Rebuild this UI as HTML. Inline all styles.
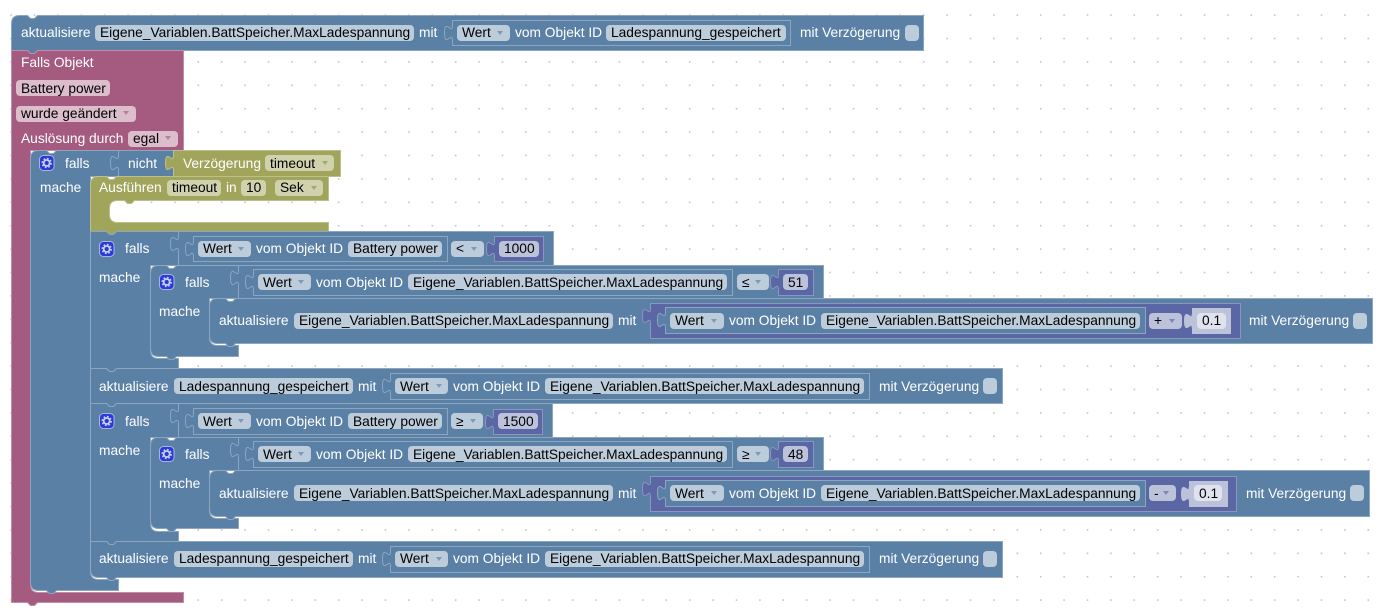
<!DOCTYPE html>
<html lang="de"><head><meta charset="utf-8"><title>Blockly</title>
<style>
html,body{margin:0;padding:0;background:#fff;width:1383px;height:614px;overflow:hidden}
svg{display:block}
text{font:13.75px "Liberation Sans",Arial,sans-serif;fill:#fff;white-space:pre}
text.k{fill:#000}
.bl{fill:#5b80a5;stroke:#8ca6c0}
.p{fill:#a55b80;stroke:#c08ca6}
.o{fill:#a0a55b;stroke:#bcc08c}
.m{fill:#5b67a5;stroke:#8c95c0}
.s{fill:#bdc2db;stroke:#bdc2db}
.fb{fill:#bdccdb}.fp{fill:#dbbdcc}.fo{fill:#d0d2ad}.fm{fill:#bdc2db}.fs{fill:#e0e2ee}
.ab{fill:#7d9ab8}.ap{fill:#b57f9b}.ao{fill:#a5a870}.am{fill:#7d86b8}
</style></head><body>
<svg xmlns="http://www.w3.org/2000/svg" width="1383" height="614" viewBox="0 0 1383 614">
<defs>
<pattern id="d" patternUnits="userSpaceOnUse" x="10.3" y="14.3" width="23.4" height="23.4"><rect width="1.6" height="1.6" fill="#c4c4c4"/></pattern>
<g id="t"><rect x="-1" y="1" width="2" height="13" stroke="none"/><path d="M0,0 c0,10 -8,-8 -8,7.5 s8,-2.5 8,7.5"/></g>
<g id="gear"><rect x="0.5" y="0.5" width="14.5" height="15" rx="4" fill="#2a39d8" stroke="#a9b6dc"/><circle cx="7.7" cy="8" r="3" fill="none" stroke="#c7d1ea" stroke-width="1.8"/><circle cx="7.7" cy="8" r="4.5" fill="none" stroke="#c7d1ea" stroke-width="1.5" stroke-dasharray="1.8 1.74"/></g>
</defs>
<rect width="1383" height="614" fill="#fff"/>
<rect width="1383" height="614" fill="url(#d)"/>

<g transform="translate(.5 .5)">
<!-- top block -->
<path class="bl" d="M11,23 Q11,15 19,15 H27 l3,3 h4 l3,-3 H923 V50 H37 l-3,3 h-4 l-3,-3 H11 Z"/>
<!-- event -->
<path class="p" d="M11,50 H27 l3,3 h4 l3,-3 H183 V150 H30 V584 Q30,592 38,592 H183 V602 H37 l-3,3 h-4 l-3,-3 H11 Z"/>
<!-- outer falls -->
<path class="bl" d="M30,158 Q30,150 38,150 H46 l3,3 h4 l3,-3 H118 V176 H90 V571 Q90,579 98,579 H118 V590 H56 l-3,3 h-4 l-3,-3 H38 Q30,590 30,582 Z"/>
<path class="bl" d="M118,150 H173 V176 H118 Z"/>
<use href="#t" x="118" y="155" class="bl"/>
<path class="o" d="M173,150 H340 V176 H173 Z"/>
<use href="#t" x="173" y="155" class="o"/>
<!-- Ausfuehren -->
<path class="o" d="M90,184 Q90,176 98,176 H106 l3,3 h4 l3,-3 H328 V200 H134 l-3,3 h-4 l-3,-3 H117 Q109,200 109,208 V214 Q109,222 117,222 H328 V231 H116 l-3,3 h-4 l-3,-3 H90 Z"/>

<!-- falls 2 -->
<path class="bl" d="M90,231 H106 l3,3 h4 l3,-3 H178 V265 H150 V350 Q150,358 158,358 H178 V368 H116 l-3,3 h-4 l-3,-3 H90 Z"/>
<rect class="bl" x="178" y="231" width="375" height="34"/>
<use href="#t" x="178" y="236" class="bl"/>
<rect class="bl" x="193" y="236" width="254" height="25"/>
<use href="#t" x="193" y="241" class="bl"/>
<rect class="m" x="494" y="236" width="49" height="25"/>
<use href="#t" x="494" y="241" class="m"/>
<!-- falls 2 inner -->
<path class="bl" d="M150,273 Q150,265 158,265 H166 l3,3 h4 l3,-3 H238 V298 H209 V337 Q209,345 217,345 H238 V356 H176 l-3,3 h-4 l-3,-3 H158 Q150,356 150,348 Z"/>
<rect class="bl" x="238" y="265" width="585" height="33"/>
<use href="#t" x="238" y="270" class="bl"/>
<rect class="bl" x="253" y="269" width="479" height="26"/>
<use href="#t" x="253" y="274" class="bl"/>
<rect class="m" x="778" y="269" width="35" height="26"/>
<use href="#t" x="778" y="274" class="m"/>
<!-- akt inner 1 -->
<path class="bl" d="M209,306 Q209,298 217,298 H225 l3,3 h4 l3,-3 H1372 V343 H235 l-3,3 h-4 l-3,-3 H217 Q209,343 209,335 Z"/>
<rect class="m" x="650" y="303" width="590" height="35"/>
<use href="#t" x="650" y="308" class="m"/>
<rect class="bl" x="665" y="307" width="480" height="26"/>
<use href="#t" x="665" y="312" class="bl"/>
<rect class="s" x="1192" y="308" width="38" height="25"/>
<use href="#t" x="1192" y="313" class="s"/>

<!-- akt 2 -->
<path class="bl" d="M90,368 H106 l3,3 h4 l3,-3 H1002 V403 H116 l-3,3 h-4 l-3,-3 H90 Z"/>
<rect class="bl" x="390" y="373" width="479" height="26"/>
<use href="#t" x="390" y="378" class="bl"/>

<!-- falls 3 -->
<path class="bl" d="M90,403 H106 l3,3 h4 l3,-3 H178 V437 H150 V523 Q150,531 158,531 H178 V541 H116 l-3,3 h-4 l-3,-3 H90 Z"/>
<rect class="bl" x="178" y="403" width="374" height="34"/>
<use href="#t" x="178" y="408" class="bl"/>
<rect class="bl" x="193" y="408" width="254" height="26"/>
<use href="#t" x="193" y="413" class="bl"/>
<rect class="m" x="493" y="409" width="49" height="25"/>
<use href="#t" x="493" y="414" class="m"/>
<!-- falls 3 inner -->
<path class="bl" d="M150,445 Q150,437 158,437 H166 l3,3 h4 l3,-3 H238 V470 H209 V510 Q209,518 217,518 H238 V528 H176 l-3,3 h-4 l-3,-3 H158 Q150,528 150,520 Z"/>
<rect class="bl" x="238" y="437" width="585" height="33"/>
<use href="#t" x="238" y="442" class="bl"/>
<rect class="bl" x="253" y="441" width="479" height="26"/>
<use href="#t" x="253" y="446" class="bl"/>
<rect class="m" x="778" y="441" width="35" height="26"/>
<use href="#t" x="778" y="446" class="m"/>
<!-- akt inner 2 -->
<path class="bl" d="M209,478 Q209,470 217,470 H225 l3,3 h4 l3,-3 H1369 V516 H235 l-3,3 h-4 l-3,-3 H217 Q209,516 209,508 Z"/>
<rect class="m" x="650" y="476" width="586" height="35"/>
<use href="#t" x="650" y="481" class="m"/>
<rect class="bl" x="665" y="480" width="480" height="26"/>
<use href="#t" x="665" y="485" class="bl"/>
<rect class="s" x="1189" y="481" width="38" height="25"/>
<use href="#t" x="1189" y="486" class="s"/>

<!-- akt 4 -->
<path class="bl" d="M90,541 H106 l3,3 h4 l3,-3 H1002 V577 H116 l-3,3 h-4 l-3,-3 H98 Q90,577 90,569 Z"/>
<rect class="bl" x="390" y="546" width="479" height="26"/>
<use href="#t" x="390" y="551" class="bl"/>
<rect class="bl" x="452" y="20" width="338" height="25"/>
<use href="#t" x="452" y="25" class="bl"/>
</g>

<!-- ROW 1 -->
<text x="21" y="37">aktualisiere</text>
<rect class="fb" x="95" y="25" width="319" height="16" rx="4"/><text class="k" x="100" y="37">Eigene_Variablen.BattSpeicher.MaxLadespannung</text>
<text x="419" y="37">mit</text>
<rect class="fb" x="457" y="25" width="53" height="16" rx="4"/><text class="k" x="462" y="37">Wert</text><path class="ab" d="M497,31 h6 l-3,4 z"/>
<text x="515" y="37">vom Objekt ID</text>
<rect class="fb" x="606" y="25" width="180" height="16" rx="4"/><text class="k" x="611" y="37">Ladespannung_gespeichert</text>
<text x="800" y="37">mit Verzögerung</text>
<rect class="fb" x="905" y="25" width="14" height="16" rx="4"/>

<!-- EVENT -->
<text x="21" y="67">Falls Objekt</text>
<rect class="fp" x="16" y="80" width="94" height="16" rx="4"/><text class="k" x="21" y="93">Battery power</text>
<rect class="fp" x="16" y="106" width="120" height="16" rx="4"/><text class="k" x="21" y="118">wurde geändert</text><path class="ap" d="M123,111 h6 l-3,4 z"/>
<text x="21" y="143">Auslösung durch</text>
<rect class="fp" x="128" y="131" width="50" height="16" rx="4"/><text class="k" x="133" y="143">egal</text><path class="ap" d="M165,136 h6 l-3,4 z"/>

<!-- FALLS 1 -->
<use href="#gear" x="39" y="155"/>
<text x="65" y="168">falls</text>
<text x="128" y="168">nicht</text>
<text x="40" y="192">mache</text>
<text x="183" y="168">Verzögerung</text>
<rect class="fo" x="265" y="155" width="69" height="16" rx="4"/><text class="k" x="270" y="168">timeout</text><path class="ao" d="M322,161 h6 l-3,4 z"/>
<text x="99" y="192">Ausführen</text>
<rect class="fo" x="167" y="180" width="54" height="16" rx="4"/><text class="k" x="172" y="192">timeout</text>
<text x="226" y="192">in</text>
<rect class="fo" x="241" y="180" width="25" height="16" rx="4"/><text class="k" x="246" y="192">10</text>
<rect class="fo" x="275" y="180" width="48" height="16" rx="4"/><text class="k" x="280" y="192">Sek</text><path class="ao" d="M311,186 h6 l-3,4 z"/>

<!-- FALLS 2 -->
<use href="#gear" x="99" y="241"/>
<text x="125" y="253">falls</text>
<rect class="fb" x="198" y="241" width="53" height="16" rx="4"/><text class="k" x="203" y="253">Wert</text><path class="ab" d="M238,247 h6 l-3,4 z"/>
<text x="256" y="253">vom Objekt ID</text>
<rect class="fb" x="348" y="241" width="94" height="16" rx="4"/><text class="k" x="353" y="253">Battery power</text>
<rect class="fb" x="451" y="241" width="33" height="16" rx="4"/><text class="k" x="456" y="253">&lt;</text><path class="ab" d="M471,247 h6 l-3,4 z"/>
<rect class="fm" x="499" y="241" width="40" height="16" rx="4"/><text class="k" x="504" y="253">1000</text>
<text x="99" y="282">mache</text>

<use href="#gear" x="159" y="274"/>
<text x="185" y="287">falls</text>
<rect class="fb" x="258" y="274" width="53" height="16" rx="4"/><text class="k" x="263" y="287">Wert</text><path class="ab" d="M298,280 h6 l-3,4 z"/>
<text x="316" y="287">vom Objekt ID</text>
<rect class="fb" x="408" y="274" width="319" height="16" rx="4"/><text class="k" x="413" y="287">Eigene_Variablen.BattSpeicher.MaxLadespannung</text>
<rect class="fb" x="737" y="274" width="32" height="16" rx="4"/><text class="k" x="742" y="287">≤</text><path class="ab" d="M755,280 h6 l-3,4 z"/>
<rect class="fm" x="783" y="274" width="25" height="16" rx="4"/><text class="k" x="788" y="287">51</text>
<text x="159" y="316">mache</text>

<text x="219" y="325">aktualisiere</text>
<rect class="fb" x="294" y="313" width="319" height="16" rx="4"/><text class="k" x="299" y="325">Eigene_Variablen.BattSpeicher.MaxLadespannung</text>
<text x="618" y="325">mit</text>
<rect class="fb" x="670" y="313" width="54" height="16" rx="4"/><text class="k" x="675" y="325">Wert</text><path class="ab" d="M711,319 h6 l-3,4 z"/>
<text x="729" y="325">vom Objekt ID</text>
<rect class="fb" x="821" y="313" width="319" height="16" rx="4"/><text class="k" x="826" y="325">Eigene_Variablen.BattSpeicher.MaxLadespannung</text>
<rect class="fm" x="1149" y="313" width="33" height="16" rx="4"/><text class="k" x="1154" y="325">+</text><path class="am" d="M1169,319 h6 l-3,4 z"/>
<rect class="fs" x="1197" y="313" width="29" height="16" rx="4"/><text class="k" x="1202" y="325">0.1</text>
<text x="1249" y="325">mit Verzögerung</text>
<rect class="fb" x="1353" y="313" width="14" height="16" rx="4"/>

<!-- AKT 2 -->
<text x="99" y="391">aktualisiere</text>
<rect class="fb" x="174" y="378" width="179" height="16" rx="4"/><text class="k" x="179" y="391">Ladespannung_gespeichert</text>
<text x="358" y="391">mit</text>
<rect class="fb" x="395" y="378" width="53" height="16" rx="4"/><text class="k" x="400" y="391">Wert</text><path class="ab" d="M436,384 h6 l-3,4 z"/>
<text x="453" y="391">vom Objekt ID</text>
<rect class="fb" x="545" y="378" width="319" height="16" rx="4"/><text class="k" x="550" y="391">Eigene_Variablen.BattSpeicher.MaxLadespannung</text>
<text x="879" y="391">mit Verzögerung</text>
<rect class="fb" x="983" y="378" width="14" height="16" rx="4"/>

<!-- FALLS 3 -->
<use href="#gear" x="99" y="413"/>
<text x="125" y="426">falls</text>
<rect class="fb" x="198" y="413" width="53" height="16" rx="4"/><text class="k" x="203" y="426">Wert</text><path class="ab" d="M238,419 h6 l-3,4 z"/>
<text x="256" y="426">vom Objekt ID</text>
<rect class="fb" x="348" y="413" width="94" height="16" rx="4"/><text class="k" x="353" y="426">Battery power</text>
<rect class="fb" x="451" y="413" width="32" height="16" rx="4"/><text class="k" x="456" y="426">≥</text><path class="ab" d="M470,419 h6 l-3,4 z"/>
<rect class="fm" x="498" y="413" width="40" height="16" rx="4"/><text class="k" x="503" y="426">1500</text>
<text x="99" y="455">mache</text>

<use href="#gear" x="159" y="446"/>
<text x="185" y="459">falls</text>
<rect class="fb" x="258" y="446" width="53" height="16" rx="4"/><text class="k" x="263" y="459">Wert</text><path class="ab" d="M298,452 h6 l-3,4 z"/>
<text x="316" y="459">vom Objekt ID</text>
<rect class="fb" x="408" y="446" width="319" height="16" rx="4"/><text class="k" x="413" y="459">Eigene_Variablen.BattSpeicher.MaxLadespannung</text>
<rect class="fb" x="737" y="446" width="32" height="16" rx="4"/><text class="k" x="742" y="459">≥</text><path class="ab" d="M755,452 h6 l-3,4 z"/>
<rect class="fm" x="783" y="446" width="25" height="16" rx="4"/><text class="k" x="788" y="459">48</text>
<text x="159" y="488">mache</text>

<text x="219" y="498">aktualisiere</text>
<rect class="fb" x="294" y="485" width="319" height="16" rx="4"/><text class="k" x="299" y="498">Eigene_Variablen.BattSpeicher.MaxLadespannung</text>
<text x="618" y="498">mit</text>
<rect class="fb" x="670" y="485" width="54" height="16" rx="4"/><text class="k" x="675" y="498">Wert</text><path class="ab" d="M711,491 h6 l-3,4 z"/>
<text x="729" y="498">vom Objekt ID</text>
<rect class="fb" x="821" y="485" width="319" height="16" rx="4"/><text class="k" x="826" y="498">Eigene_Variablen.BattSpeicher.MaxLadespannung</text>
<rect class="fm" x="1149" y="485" width="27" height="16" rx="4"/><text class="k" x="1154" y="498">-</text><path class="am" d="M1163,491 h6 l-3,4 z"/>
<rect class="fs" x="1194" y="485" width="28" height="16" rx="4"/><text class="k" x="1199" y="498">0.1</text>
<text x="1246" y="498">mit Verzögerung</text>
<rect class="fb" x="1350" y="485" width="14" height="16" rx="4"/>

<!-- AKT 4 -->
<text x="99" y="563">aktualisiere</text>
<rect class="fb" x="174" y="551" width="179" height="16" rx="4"/><text class="k" x="179" y="563">Ladespannung_gespeichert</text>
<text x="358" y="563">mit</text>
<rect class="fb" x="395" y="551" width="53" height="16" rx="4"/><text class="k" x="400" y="563">Wert</text><path class="ab" d="M436,557 h6 l-3,4 z"/>
<text x="453" y="563">vom Objekt ID</text>
<rect class="fb" x="545" y="551" width="319" height="16" rx="4"/><text class="k" x="550" y="563">Eigene_Variablen.BattSpeicher.MaxLadespannung</text>
<text x="879" y="563">mit Verzögerung</text>
<rect class="fb" x="983" y="551" width="14" height="16" rx="4"/>
</svg>
</body></html>
